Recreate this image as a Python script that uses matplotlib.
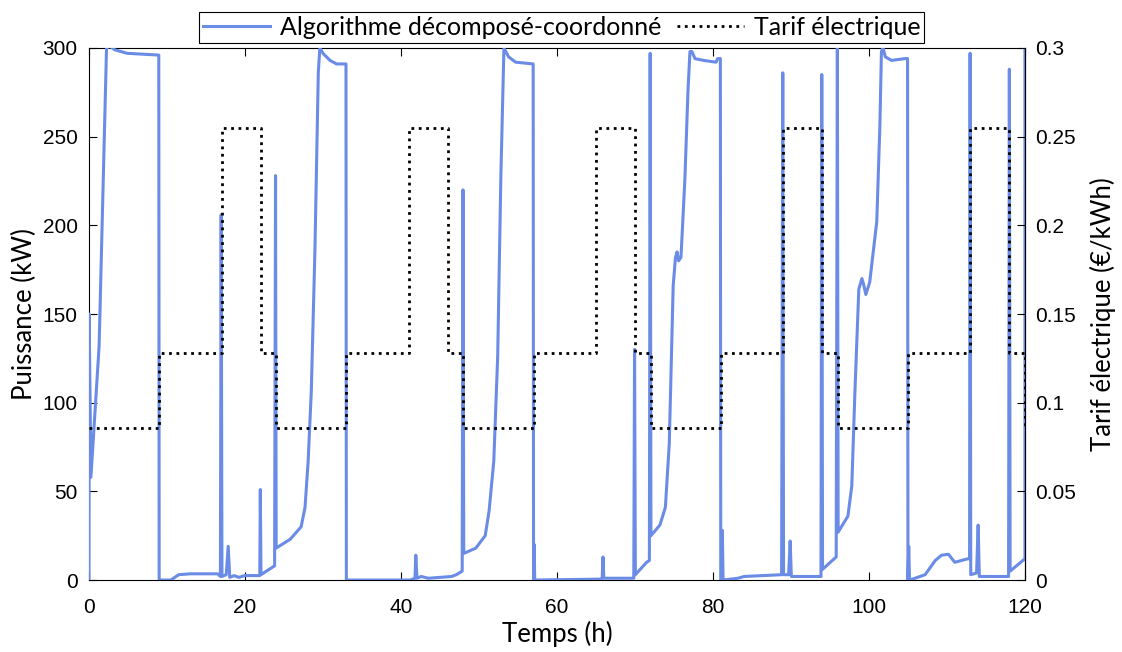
import matplotlib
matplotlib.use("Agg")
import matplotlib.pyplot as plt
from matplotlib.ticker import FormatStrFormatter

plt.rcParams['font.family'] = ['Lato', 'DejaVu Sans']

# puissance (kW) vs temps (h)
temps = [0.0, 0.02, 0.25, 1.3, 2.25, 2.7, 3.3, 4.9, 8.95, 9.0, 10.5, 11.5, 13.0, 16.5,
         16.85, 16.95, 17.05, 17.6, 17.85, 18.05, 18.6, 19.2, 20.0, 21.9, 21.97, 22.05,
         23.8, 23.92, 24.0, 25.8, 27.2, 27.7, 28.1, 28.5, 28.97, 29.4, 29.6, 30.0, 30.9,
         31.75, 32.95, 33.0, 41.2, 41.8, 41.9, 42.05, 42.6, 43.5, 46.5, 47.1, 47.85,
         47.95, 48.05, 49.6, 50.8, 51.3, 51.9, 52.4, 52.8, 53.2, 53.8, 54.7, 56.95,
         57.0, 57.08, 57.15, 65.5, 65.8, 65.9, 66.0, 69.85, 69.95, 70.05, 71.5, 71.85,
         71.95, 72.05, 73.2, 73.9, 74.4, 74.9, 75.2, 75.4, 75.6, 75.9, 76.4, 76.8,
         77.05, 77.3, 77.7, 78.8, 80.4, 80.6, 80.95, 81.0, 81.15, 81.2, 81.3, 83.2,
         84.0, 88.8, 88.95, 89.05, 89.7, 89.9, 90.05, 93.85, 93.95, 94.05, 95.8,
         95.95, 96.05, 97.3, 97.8, 98.2, 98.7, 99.1, 99.3, 99.6, 100.1, 101.0, 101.4,
         101.6, 101.8, 102.1, 102.9, 104.6, 104.95, 105.0, 105.1, 105.2, 105.9, 107.2,
         108.5, 109.3, 110.2, 111.0, 112.7, 112.9, 112.97, 113.05, 113.8, 114.0,
         114.15, 117.9, 118.0, 118.1, 120.0, 120.0]
puissance = [0, 150, 58, 132, 300, 301, 299, 297, 296, 0, 0, 3, 3.5, 3.5,
             2, 206, 2, 3, 19, 1.5, 2.5, 1.5, 2.5, 2.5, 51, 3,
             8, 228, 18, 23, 30, 41, 67, 106, 186, 286, 300, 297, 293,
             291, 291, 0, 0, 1, 14, 1, 2, 1, 2, 3, 5,
             220, 15, 18, 25, 39, 67, 126, 226, 300, 295, 292, 291,
             0, 20, 0, 0.5, 1, 13, 1, 1, 130, 3, 10, 11,
             297, 25, 31, 41, 77, 166, 182, 185, 180, 182, 226, 276,
             298, 298, 294, 293, 292, 294, 294, 0, 0, 28, 0, 1,
             2, 3, 286, 3, 3, 22, 2, 2, 285, 6, 13,
             300, 27, 36, 53, 106, 164, 170, 167, 161, 168, 202, 256,
             298, 300, 295, 293, 294, 294, 0, 19, 0, 1, 3,
             11, 14, 14.5, 10, 12, 12, 297, 3, 4, 31,
             2, 2, 288, 5, 12, 300]

# tarif électrique (€/kWh), step changes
tarif_t = [0, 9, 17, 22, 24, 33, 41, 46, 48, 57, 65, 70, 72, 81, 89, 94, 96,
           105, 113, 118, 120]
tarif_v = [0.086, 0.128, 0.255, 0.128, 0.086, 0.128, 0.255, 0.128, 0.086, 0.128,
           0.255, 0.128, 0.086, 0.128, 0.255, 0.128, 0.086, 0.128, 0.255, 0.128,
           0.086]

fig = plt.figure(figsize=(11.22, 6.52), dpi=100)
ax = fig.add_axes([0.0793, 0.1104, 0.8342, 0.816])
ax2 = ax.twinx()
for side in ('left', 'top', 'bottom'):
    ax2.spines[side].set_visible(False)

l1, = ax.plot(temps, puissance, color='#6a8be6', lw=2.2, zorder=3,
              label='Algorithme décomposé-coordonné')
l2, = ax2.plot(tarif_t, tarif_v, color='black', ls=':', lw=2.0,
               drawstyle='steps-post', label='Tarif électrique')

ax.set_xlim(0, 120)
ax.set_ylim(0, 300)
ax2.set_ylim(0, 0.3)
ax.set_xticks(range(0, 121, 20))
ax.set_yticks(range(0, 301, 50))
ax2.set_yticks([0, 0.05, 0.1, 0.15, 0.2, 0.25, 0.3])
ax2.yaxis.set_major_formatter(FormatStrFormatter('%g'))

ax.tick_params(axis='x', direction='in', top=True, labelsize=15, length=6, pad=13)
ax.tick_params(axis='y', direction='in', labelsize=15, length=6, pad=8)
ax2.tick_params(axis='y', direction='in', labelsize=15, length=6, pad=7)
for a in (ax, ax2):
    for lab in a.get_xticklabels() + a.get_yticklabels():
        lab.set_family(['Liberation Sans', 'DejaVu Sans'])

ax.set_xlabel('Temps (h)', fontsize=18.5, labelpad=3)
ax.set_ylabel('Puissance (kW)', fontsize=18.5, labelpad=4)
ax2.set_ylabel('Tarif électrique (€/kWh)', fontsize=18.5, labelpad=10)

for a in (ax, ax2):
    for s in a.spines.values():
        s.set_linewidth(0.8)

leg = ax2.legend(handles=[l1, l2], loc='lower center', bbox_to_anchor=(0.505, 1.0),
                 ncol=2, fontsize=18, fancybox=False, edgecolor='black',
                 framealpha=1, borderaxespad=0.2, handlelength=2.7,
                 columnspacing=0.6, handletextpad=0.4, borderpad=0.15)
leg.get_frame().set_linewidth(0.8)

fig.savefig('out.png', dpi=100)
